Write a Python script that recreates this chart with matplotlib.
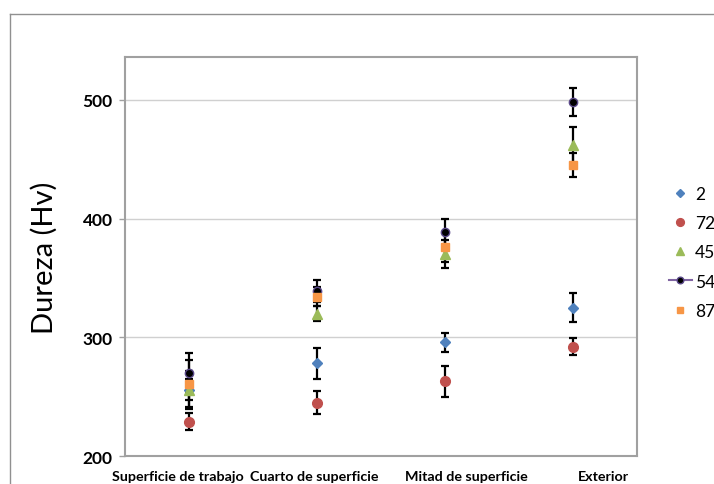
import numpy as np
import matplotlib
matplotlib.use('Agg')
import matplotlib.pyplot as plt
from matplotlib.lines import Line2D

plt.rcParams['font.family'] = ['Lato', 'DejaVu Sans']

# Datos
categorias = ['Superficie de trabajo', 'Cuarto de superficie',
              'Mitad de superficie', 'Exterior']
series = ['2', '72', '45', '54', '87']
valores = {
    '2':  [256, 278, 296, 325],
    '72': [229, 245, 263, 292],
    '45': [256, 320, 370, 462],
    '54': [270, 339, 389, 498],
    '87': [261, 334, 376, 445],
}
errores = {
    '2':  [9, 13, 8, 12],
    '72': [7, 10, 13, 7],
    '45': [16, 6, 12, 15],
    '54': [17, 9, 11, 12],
    '87': [20, 8, 13, 10],
}
# posicion de las etiquetas del eje x (desplazadas como en el original)
pos_etiquetas = [0.91, 1.98, 3.17, 4.24]

estilos = {
    '2':  dict(marker='D', color='#4F81BD', mec='#4F81BD', ms=5),
    '72': dict(marker='o', color='#C0504D', mec='#C0504D', ms=7),
    '45': dict(marker='^', color='#9BBB59', mec='#9BBB59', ms=7),
    '54': dict(marker='o', color='black', mec='#5B4A8A', ms=6),
    '87': dict(marker='s', color='#F79646', mec='#F79646', ms=6),
}

fig = plt.figure(figsize=(7.14, 4.85), dpi=100)
ax = fig.add_axes([125 / 714, 28 / 485, 512 / 714, 399 / 485])

x = np.arange(1, len(categorias) + 1)
for s in series:
    ax.errorbar(x, valores[s], yerr=errores[s], fmt='none', ecolor='black',
                elinewidth=1.6, capsize=3, capthick=1.6, zorder=3)
for i, s in enumerate(series):
    e = estilos[s]
    ax.plot(x, valores[s], linestyle='none', marker=e['marker'],
            color=e['color'], markeredgecolor=e['mec'], markersize=e['ms'],
            zorder=4 + i)

ax.set_xlim(0.5, 4.5)
ax.set_ylim(200, 536)
ax.set_yticks([200, 300, 400, 500])
ax.set_yticklabels(['200', '300', '400', '500'], fontsize=12.5, fontweight='bold')
ax.set_xticks(pos_etiquetas)
ax.set_xticklabels(categorias, fontsize=10.3, fontweight='bold')
ax.tick_params(axis='x', length=0, pad=10)
ax.tick_params(axis='y', length=4, color='#A0A0A0', width=1, pad=5)
ax.grid(axis='y', color='#D0D0D0', linewidth=1)
ax.set_axisbelow(True)
for lado in ax.spines.values():
    lado.set_color('#A0A0A0')
    lado.set_linewidth(1.5)

ax.set_ylabel('Dureza (Hv)', fontsize=21, labelpad=18)

# Leyenda
handles = []
for s in series:
    e = estilos[s]
    ls = '-' if s == '54' else 'none'
    handles.append(Line2D([], [], linestyle=ls, color='#8064A2', linewidth=1.5,
                          marker=e['marker'], markerfacecolor=e['color'],
                          markeredgecolor=e['mec'],
                          markersize=e['ms'] * 0.8))
fig.legend(handles, series, loc='upper left', bbox_to_anchor=(662 / 714, 1 - 180 / 485),
           frameon=False, fontsize=12.5, handlelength=1.3, handletextpad=0.2,
           labelspacing=0.76, borderaxespad=0)

# Borde del area del grafico
fig.add_artist(Line2D([10 / 714, 10 / 714], [0, 1 - 15 / 485],
                      transform=fig.transFigure, color='#909090', linewidth=1))
fig.add_artist(Line2D([10 / 714, 1], [1 - 15 / 485, 1 - 15 / 485],
                      transform=fig.transFigure, color='#909090', linewidth=1))

fig.savefig('out.png', dpi=100)
